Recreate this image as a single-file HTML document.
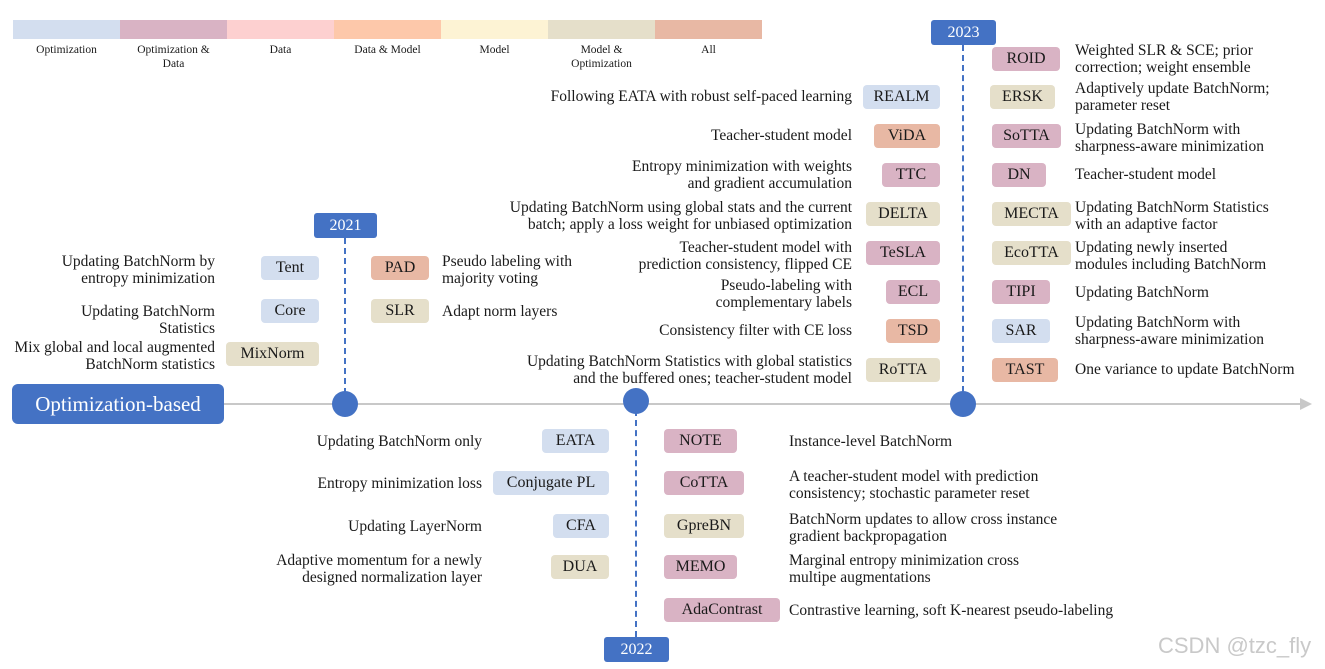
<!DOCTYPE html>
<html><head><meta charset="utf-8"><style>
body{margin:0;width:1325px;height:669px;background:#fff;position:relative;overflow:hidden;font-family:"Liberation Serif",serif;color:#1a1a1a}
.a{position:absolute}
.lg{position:absolute;top:20px;height:19px;width:107px}
.ll{position:absolute;width:107px;text-align:center;font-size:11.5px;line-height:14px;top:43px}
.b{position:absolute;height:24px;line-height:24px;border-radius:4px;text-align:center;font-size:16px}
.t{position:absolute;font-size:15.5px;line-height:17px;white-space:nowrap}
.r{text-align:right}
.O{background:#d3deef}.P{background:#d9b3c4}.M{background:#e5dfca}.A{background:#e8b8a4}
.yr{position:absolute;background:#4472c4;color:#fff;border-radius:3px;text-align:center;font-size:16px;line-height:25px;height:25px}
.dl{position:absolute;width:0;border-left:2px dashed #4472c4}
.c{position:absolute;width:26px;height:26px;border-radius:50%;background:#4472c4}
</style></head><body>
<div class="lg" style="left:13px;background:#d3deef"></div>
<div class="lg" style="left:120px;background:#d9b3c4"></div>
<div class="lg" style="left:227px;background:#fdd0d0"></div>
<div class="lg" style="left:334px;background:#fdc8aa"></div>
<div class="lg" style="left:441px;background:#fdf3d4"></div>
<div class="lg" style="left:548px;background:#e5dfca"></div>
<div class="lg" style="left:655px;background:#e8b8a4"></div>
<div class="ll" style="left:13px">Optimization</div>
<div class="ll" style="left:120px">Optimization &amp;<br>Data</div>
<div class="ll" style="left:227px">Data</div>
<div class="ll" style="left:334px">Data &amp; Model</div>
<div class="ll" style="left:441px">Model</div>
<div class="ll" style="left:548px">Model &amp;<br>Optimization</div>
<div class="ll" style="left:655px">All</div>

<div class="a" style="left:224px;top:403px;width:1080px;height:2px;background:#c8c8c8"></div>
<svg class="a" style="left:1300px;top:398px" width="14" height="12"><polygon points="0,0 12,6 0,12" fill="#c8c8c8"/></svg>
<div class="a" style="left:12px;top:384px;width:212px;height:40px;background:#4472c4;border-radius:6px;color:#fff;font-size:21px;line-height:40px;text-align:center">Optimization-based</div>

<div class="yr" style="left:314px;top:213px;width:63px">2021</div>
<div class="dl" style="left:344px;top:238px;height:156px"></div>
<div class="c" style="left:332px;top:391px"></div>

<div class="c" style="left:623px;top:388px"></div>
<div class="dl" style="left:635px;top:410px;height:227px"></div>
<div class="yr" style="left:604px;top:637px;width:65px">2022</div>

<div class="yr" style="left:931px;top:20px;width:65px">2023</div>
<div class="dl" style="left:962px;top:45px;height:347px"></div>
<div class="c" style="left:950px;top:391px"></div>

<div class="b O" style="left:261px;top:256px;width:58px">Tent</div>
<div class="b O" style="left:261px;top:299px;width:58px">Core</div>
<div class="b M" style="left:226px;top:342px;width:93px">MixNorm</div>
<div class="b A" style="left:371px;top:256px;width:58px">PAD</div>
<div class="b M" style="left:371px;top:299px;width:58px">SLR</div>
<div class="t r" style="right:1110px;top:253px">Updating BatchNorm by<br>entropy minimization</div>
<div class="t r" style="right:1110px;top:303px">Updating BatchNorm<br>Statistics</div>
<div class="t r" style="right:1110px;top:339px">Mix global and local augmented<br>BatchNorm statistics</div>
<div class="t" style="left:442px;top:253px">Pseudo labeling with<br>majority voting</div>
<div class="t" style="left:442px;top:303px">Adapt norm layers</div>

<div class="b O" style="left:863px;top:85px;width:77px">REALM</div>
<div class="b A" style="left:874px;top:124px;width:66px">ViDA</div>
<div class="b P" style="left:882px;top:163px;width:58px">TTC</div>
<div class="b M" style="left:866px;top:202px;width:74px">DELTA</div>
<div class="b P" style="left:866px;top:241px;width:74px">TeSLA</div>
<div class="b P" style="left:886px;top:280px;width:54px">ECL</div>
<div class="b A" style="left:886px;top:319px;width:54px">TSD</div>
<div class="b M" style="left:866px;top:358px;width:74px">RoTTA</div>
<div class="t r" style="right:473px;top:88px">Following EATA with robust self-paced learning</div>
<div class="t r" style="right:473px;top:127px">Teacher-student model</div>
<div class="t r" style="right:473px;top:158px">Entropy minimization with weights<br>and gradient accumulation</div>
<div class="t r" style="right:473px;top:199px">Updating BatchNorm using global stats and the current<br>batch; apply a loss weight for unbiased optimization</div>
<div class="t r" style="right:473px;top:239px">Teacher-student model with<br>prediction consistency, flipped CE</div>
<div class="t r" style="right:473px;top:277px">Pseudo-labeling with<br>complementary labels</div>
<div class="t r" style="right:473px;top:322px">Consistency filter with CE loss</div>
<div class="t r" style="right:473px;top:353px">Updating BatchNorm Statistics with global statistics<br>and the buffered ones; teacher-student model</div>

<div class="b P" style="left:992px;top:47px;width:68px">ROID</div>
<div class="b M" style="left:990px;top:85px;width:65px">ERSK</div>
<div class="b P" style="left:992px;top:124px;width:69px">SoTTA</div>
<div class="b P" style="left:992px;top:163px;width:54px">DN</div>
<div class="b M" style="left:992px;top:202px;width:79px">MECTA</div>
<div class="b M" style="left:992px;top:241px;width:79px">EcoTTA</div>
<div class="b P" style="left:992px;top:280px;width:58px">TIPI</div>
<div class="b O" style="left:992px;top:319px;width:58px">SAR</div>
<div class="b A" style="left:992px;top:358px;width:66px">TAST</div>
<div class="t" style="left:1075px;top:42px">Weighted SLR &amp; SCE; prior<br>correction; weight ensemble</div>
<div class="t" style="left:1075px;top:80px">Adaptively update BatchNorm;<br>parameter reset</div>
<div class="t" style="left:1075px;top:121px">Updating BatchNorm with<br>sharpness-aware minimization</div>
<div class="t" style="left:1075px;top:166px">Teacher-student model</div>
<div class="t" style="left:1075px;top:199px">Updating BatchNorm Statistics<br>with an adaptive factor</div>
<div class="t" style="left:1075px;top:239px">Updating newly inserted<br>modules including BatchNorm</div>
<div class="t" style="left:1075px;top:284px">Updating BatchNorm</div>
<div class="t" style="left:1075px;top:314px">Updating BatchNorm with<br>sharpness-aware minimization</div>
<div class="t" style="left:1075px;top:361px">One variance to update BatchNorm</div>

<div class="b O" style="left:542px;top:429px;width:67px">EATA</div>
<div class="b O" style="left:493px;top:471px;width:116px">Conjugate PL</div>
<div class="b O" style="left:553px;top:514px;width:56px">CFA</div>
<div class="b M" style="left:551px;top:555px;width:58px">DUA</div>
<div class="b P" style="left:664px;top:429px;width:73px">NOTE</div>
<div class="b P" style="left:664px;top:471px;width:80px">CoTTA</div>
<div class="b M" style="left:664px;top:514px;width:80px">GpreBN</div>
<div class="b P" style="left:664px;top:555px;width:73px">MEMO</div>
<div class="b P" style="left:664px;top:598px;width:116px">AdaContrast</div>
<div class="t r" style="right:843px;top:433px">Updating BatchNorm only</div>
<div class="t r" style="right:843px;top:475px">Entropy minimization loss</div>
<div class="t r" style="right:843px;top:518px">Updating LayerNorm</div>
<div class="t r" style="right:843px;top:552px">Adaptive momentum for a newly<br>designed normalization layer</div>
<div class="t" style="left:789px;top:433px">Instance-level BatchNorm</div>
<div class="t" style="left:789px;top:468px">A teacher-student model with prediction<br>consistency; stochastic parameter reset</div>
<div class="t" style="left:789px;top:511px">BatchNorm updates to allow cross instance<br>gradient backpropagation</div>
<div class="t" style="left:789px;top:552px">Marginal entropy minimization cross<br>multipe augmentations</div>
<div class="t" style="left:789px;top:602px">Contrastive learning, soft K-nearest pseudo-labeling</div>
<div class="a" style="left:1158px;top:633px;font-family:'Liberation Sans',sans-serif;font-size:22px;color:#c9c9c9">CSDN @tzc_fly</div>
</body></html>
